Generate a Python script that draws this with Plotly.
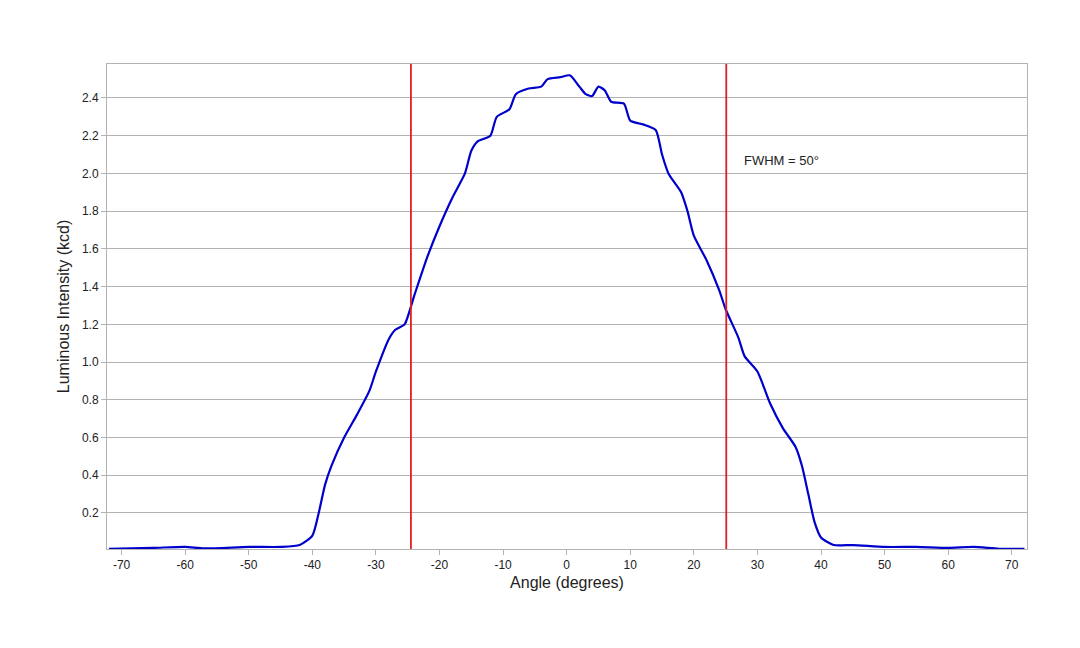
import plotly.graph_objects as go

angle = [-72,-65,-60,-57,-50,-45,-42,-40,-39,-38,-37,-35,-33,-31,-30,-28,-27,-25.5,-24,-22,-20,-18,-16,-15,-14,-12,-11,-9,-8,-6,-4,-3,-1,0.5,2,3,4,5,6,7,9,10,12,14,15,16,18,19,20,22,24,25,27,28,30,32,34,36,37,38,39,40,42,45,50,55,60,64,68,72]
intensity = [0.01,0.015,0.02,0.012,0.02,0.02,0.03,0.08,0.2,0.35,0.45,0.6,0.72,0.85,0.95,1.12,1.17,1.2,1.35,1.55,1.72,1.87,2.0,2.12,2.17,2.2,2.3,2.34,2.42,2.45,2.46,2.5,2.51,2.52,2.46,2.42,2.41,2.46,2.44,2.38,2.37,2.28,2.26,2.23,2.1,2.0,1.9,1.8,1.67,1.54,1.38,1.28,1.13,1.03,0.95,0.78,0.65,0.55,0.45,0.3,0.15,0.07,0.03,0.03,0.02,0.02,0.015,0.02,0.01,0.01]
fwhm_lines = [-24.5, 25.1]
xticks = list(range(-70, 71, 10))
xticklabels = [str(v) for v in xticks]
yticks = [0.2,0.4,0.6,0.8,1.0,1.2,1.4,1.6,1.8,2.0,2.2,2.4]

fig = go.Figure()
fig.add_trace(go.Scatter(x=angle, y=intensity, mode="lines",
                         line=dict(color="#0000cc", width=2.2, shape="spline", smoothing=0.6)))
for v in fwhm_lines:
    fig.add_vline(x=v, line=dict(color="#e02020", width=1.8))
fig.add_annotation(x=27.5, y=2.07, text="FWHM = 50°", showarrow=False, xanchor="left",
                   font=dict(size=13, color="#222"))
fig.update_layout(width=1080, height=648, plot_bgcolor="white", paper_bgcolor="white",
                  showlegend=False, margin=dict(l=99, r=61, t=56, b=107, autoexpand=False),
                  font=dict(family="Liberation Sans, Arial", size=13, color="#222"))
fig.update_xaxes(range=[-72.3, 72.4], tickvals=xticks, ticktext=xticklabels, showgrid=False, zeroline=False,
                 showline=True, linecolor="#b3b3b3", mirror=True, ticks="outside",
                 tickcolor="#b3b3b3", tickfont=dict(size=12), title=dict(text="Angle (degrees)", standoff=5))
fig.update_yaxes(range=[0.009, 2.58], tickvals=yticks, tickformat=".1f", showgrid=True,
                 gridcolor="#b3b3b3", zeroline=False, showline=True, linecolor="#b3b3b3",
                 mirror=True, ticks="outside", tickcolor="#b3b3b3", tickfont=dict(size=12),
                 title=dict(text="Luminous Intensity (kcd)", standoff=8))
fig.write_html("out.html")
